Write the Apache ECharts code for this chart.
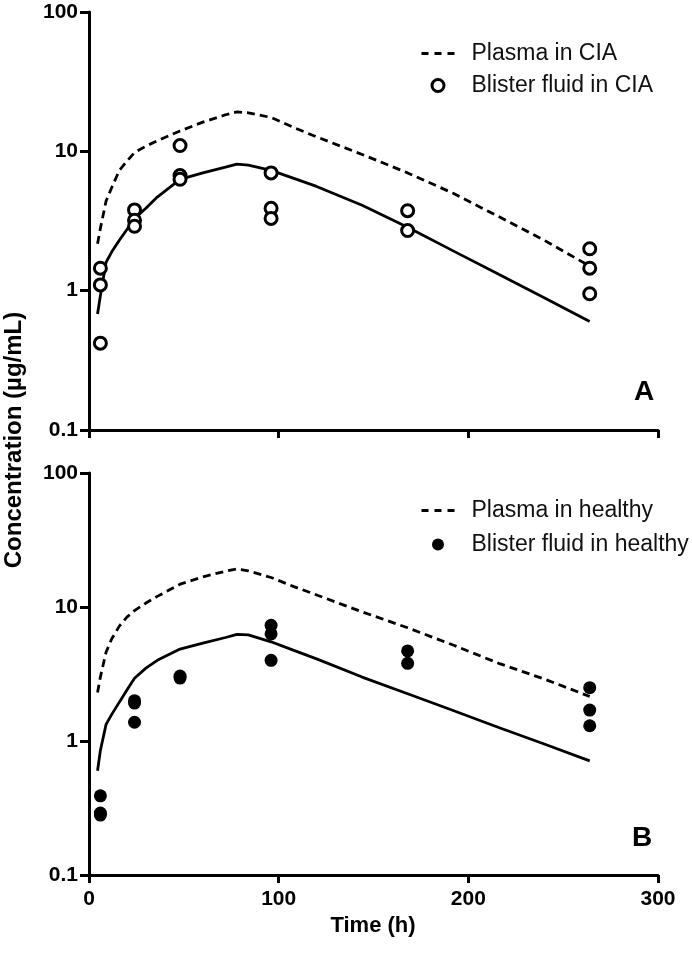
<!DOCTYPE html>
<html>
<head>
<meta charset="utf-8">
<script src="https://cdn.jsdelivr.net/npm/echarts@6/dist/echarts.min.js"></script>
<style>
html,body{margin:0;padding:0;background:#fff;}
#chart{width:692px;height:965px;}
</style>
</head>
<body>
<div id="chart"></div>
<script>
// ---- data ----
const xTicks = [0, 100, 200, 300];
const yTicks = [0.1, 1, 10, 100];

// model curves (time in h)
const modelTimes = [4.5, 6, 9, 12, 16, 20, 24, 30, 36, 48, 60, 72, 78, 84, 96, 108, 120, 144, 168, 192, 216, 240, 264];
const plasmaCIA = [2.17, 2.8, 4.4, 5.5, 7.3, 8.5, 9.8, 10.9, 11.9, 14.0, 16.2, 18.3, 19.2, 18.9, 17.5, 14.8, 12.7, 9.5, 7.0, 5.0, 3.4, 2.3, 1.5];
const blisterModelCIA = [0.68, 0.92, 1.6, 1.9, 2.3, 2.75, 3.3, 3.9, 4.7, 6.3, 7.0, 7.7, 8.1, 7.95, 7.3, 6.4, 5.6, 4.1, 2.85, 1.93, 1.31, 0.89, 0.60];
const plasmaHealthy = [2.3, 3.0, 4.6, 5.8, 7.2, 8.4, 9.4, 10.7, 12.0, 14.8, 16.8, 18.5, 19.2, 18.6, 16.6, 14.2, 12.3, 9.2, 7.0, 5.2, 3.8, 2.9, 2.15];
const blisterModelHealthy = [0.6, 0.85, 1.33, 1.58, 1.95, 2.4, 2.94, 3.5, 4.0, 4.85, 5.37, 5.92, 6.25, 6.2, 5.5, 4.75, 4.1, 3.0, 2.25, 1.69, 1.26, 0.95, 0.71];

// observed blister fluid concentrations
const obsTimesCIA = [6, 6, 6, 24, 24, 24, 48, 48, 48, 96, 96, 96, 168, 168, 264, 264, 264];
const obsCIA = [1.45, 1.1, 0.42, 3.8, 3.2, 2.9, 11.0, 6.7, 6.3, 7.0, 3.9, 3.3, 3.75, 2.7, 2.0, 1.45, 0.95];
const obsTimesHealthy = [6, 6, 6, 24, 24, 24, 48, 48, 96, 96, 96, 168, 168, 264, 264, 264];
const obsHealthy = [0.39, 0.29, 0.28, 2.0, 1.92, 1.38, 3.05, 2.95, 7.3, 6.3, 4.0, 4.7, 3.8, 2.5, 1.7, 1.3];

const names = {
  plasmaCIA: 'Plasma in CIA',
  blisterCIA: 'Blister fluid in CIA',
  plasmaHealthy: 'Plasma in healthy',
  blisterHealthy: 'Blister fluid in healthy'
};

// ---- helpers ----
const zip = (xs, ys) => xs.map((x, i) => [x, ys[i]]);
const FONT = '"Liberation Sans", Arial, sans-serif';

function xAxisCfg(gridIndex, showLabels) {
  return {
    type: 'value', gridIndex, min: xTicks[0], max: xTicks[xTicks.length - 1], interval: 100,
    axisLine: { show: true, onZero: false, lineStyle: { color: '#000', width: 3 } },
    axisTick: { show: true, inside: false, length: 8, lineStyle: { color: '#000', width: 3 } },
    axisLabel: { show: showLabels, margin: 14, color: '#000', fontFamily: FONT, fontWeight: 'bold', fontSize: 21 },
    splitLine: { show: false }
  };
}
function yAxisCfg(gridIndex) {
  return {
    type: 'log', logBase: 10, gridIndex, min: yTicks[0], max: yTicks[yTicks.length - 1],
    axisLine: { show: true, onZero: false, lineStyle: { color: '#000', width: 3 } },
    axisTick: { show: true, inside: false, length: 9, lineStyle: { color: '#000', width: 3 } },
    minorTick: { show: false },
    axisLabel: { margin: 11, color: '#000', fontFamily: FONT, fontWeight: 'bold', fontSize: 21,
      formatter: v => { const r = yTicks.find(t => Math.abs(t - v) / t < 1e-6); return r === undefined ? '' : String(r); } },
    splitLine: { show: false }
  };
}
const dashed = { color: '#000', width: 2.8, type: [8, 5] };
const solid = { color: '#000', width: 2.8, type: 'solid' };

const legendCfg = (top, lineName, dotName, gap, dotStyle) => ({
  orient: 'vertical', left: 415, top, itemGap: gap, itemWidth: 33, itemHeight: 12,
  data: [
    { name: lineName, itemStyle: { opacity: 0 }, lineStyle: { color: '#000', width: 3, type: [7, 6] } },
    { name: dotName, itemStyle: dotStyle }
  ],
  textStyle: { fontFamily: FONT, fontSize: 23, color: '#111', padding: [0, 0, 0, 12] },
  selectedMode: false
});

const option = {
  animation: false,
  backgroundColor: '#fff',
  grid: [
    { left: 89, top: 12, width: 569, height: 418 },
    { left: 89, top: 473, width: 569, height: 402 }
  ],
  xAxis: [xAxisCfg(0, false), xAxisCfg(1, true)],
  yAxis: [yAxisCfg(0), yAxisCfg(1)],
  legend: [
    legendCfg(37, names.plasmaCIA, names.blisterCIA, 9, { color: '#fff', borderColor: '#000', borderWidth: 3 }),
    legendCfg(494, names.plasmaHealthy, names.blisterHealthy, 11, { color: '#000', borderWidth: 0 })
  ],
  graphic: [
    { type: 'text', x: 14, y: 440, rotation: Math.PI / 2, z: 10,
      style: { text: 'Concentration (µg/mL)', align: 'center', verticalAlign: 'middle',
        font: 'bold 24px ' + FONT, fill: '#000' } },
    { type: 'text', x: 373, y: 926, style: { text: 'Time (h)', align: 'center', verticalAlign: 'middle', font: 'bold 22px ' + FONT, fill: '#000' } },
    { type: 'text', x: 644, y: 392, style: { text: 'A', align: 'center', verticalAlign: 'middle', font: 'bold 28px ' + FONT, fill: '#000' } },
    { type: 'text', x: 642, y: 838, style: { text: 'B', align: 'center', verticalAlign: 'middle', font: 'bold 28px ' + FONT, fill: '#000' } }
  ],
  series: [
    { name: names.plasmaCIA, type: 'line', xAxisIndex: 0, yAxisIndex: 0, data: zip(modelTimes, plasmaCIA),
      symbol: 'none', lineStyle: dashed, itemStyle: { color: '#000' }, z: 2 },
    { name: 'Model blister fluid in CIA', type: 'line', xAxisIndex: 0, yAxisIndex: 0, data: zip(modelTimes, blisterModelCIA),
      symbol: 'none', lineStyle: solid, itemStyle: { color: '#000' }, z: 2 },
    { name: names.blisterCIA, type: 'scatter', xAxisIndex: 0, yAxisIndex: 0, data: zip(obsTimesCIA, obsCIA),
      symbol: 'circle', symbolSize: 12, itemStyle: { color: '#fff', borderColor: '#000', borderWidth: 3, opacity: 1 }, z: 3 },
    { name: names.plasmaHealthy, type: 'line', xAxisIndex: 1, yAxisIndex: 1, data: zip(modelTimes, plasmaHealthy),
      symbol: 'none', lineStyle: dashed, itemStyle: { color: '#000' }, z: 2 },
    { name: 'Model blister fluid in healthy', type: 'line', xAxisIndex: 1, yAxisIndex: 1, data: zip(modelTimes, blisterModelHealthy),
      symbol: 'none', lineStyle: solid, itemStyle: { color: '#000' }, z: 2 },
    { name: names.blisterHealthy, type: 'scatter', xAxisIndex: 1, yAxisIndex: 1, data: zip(obsTimesHealthy, obsHealthy),
      symbol: 'circle', symbolSize: 13, itemStyle: { color: '#000', opacity: 1 }, z: 3 }
  ]
};

const chart = echarts.init(document.getElementById('chart'), null, { renderer: 'canvas' });
chart.setOption(option);
</script>
</body>
</html>
